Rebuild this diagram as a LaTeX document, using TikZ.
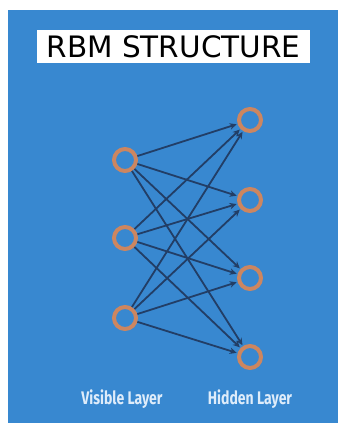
\documentclass[tikz,border=0pt]{standalone}
\usepackage{fontspec}
\setmainfont{DejaVu Sans}
\newfontfamily\labelfont{Fira Sans}
\usetikzlibrary{arrows.meta}
\definecolor{bgblue}{RGB}{56,136,208}
\definecolor{ringorange}{RGB}{204,134,96}
\definecolor{edgenavy}{RGB}{34,62,102}
\definecolor{labelwhite}{RGB}{222,236,250}
\tikzset{
  neuron/.style={circle,draw=ringorange,line width=4pt,minimum size=22pt,inner sep=0pt},
  link/.style={draw=edgenavy,line width=1.8pt,-{Stealth[length=7pt,width=6.5pt]},shorten >=1pt},
  layerlabel/.style={text=labelwhite,font=\labelfont\bfseries\fontsize{14}{16}\selectfont}
}
\begin{document}
\begin{tikzpicture}[x=1pt,y=-1pt]
\useasboundingbox (0,0) rectangle (340,425);
\fill[white] (0,0) rectangle (340,425);
\fill[bgblue] (8,10) rectangle (338,423);
\node[fill=white,inner sep=0pt,minimum width=273pt,minimum height=33pt,font=\fontsize{29.5}{32}\selectfont] (title) at (173.5,46.5) {RBM STRUCTURE};
\node[neuron] (v1) at (125,160) {};
\node[neuron] (v2) at (125,238) {};
\node[neuron] (v3) at (125,318) {};
\node[neuron] (h1) at (250,120) {};
\node[neuron] (h2) at (250,200) {};
\node[neuron] (h3) at (250,278) {};
\node[neuron] (h4) at (250,357) {};
\foreach \v in {v1,v2,v3}{
  \foreach \h in {h1,h2,h3,h4}{
    \draw[link] (\v) -- (\h);
  }
}
\node[layerlabel] (vl) at (122,399) {\scalebox{1}[1.3]{Visible Layer}};
\node[layerlabel] (hl) at (250,399) {\scalebox{1}[1.3]{Hidden Layer}};
\end{tikzpicture}
\end{document}
